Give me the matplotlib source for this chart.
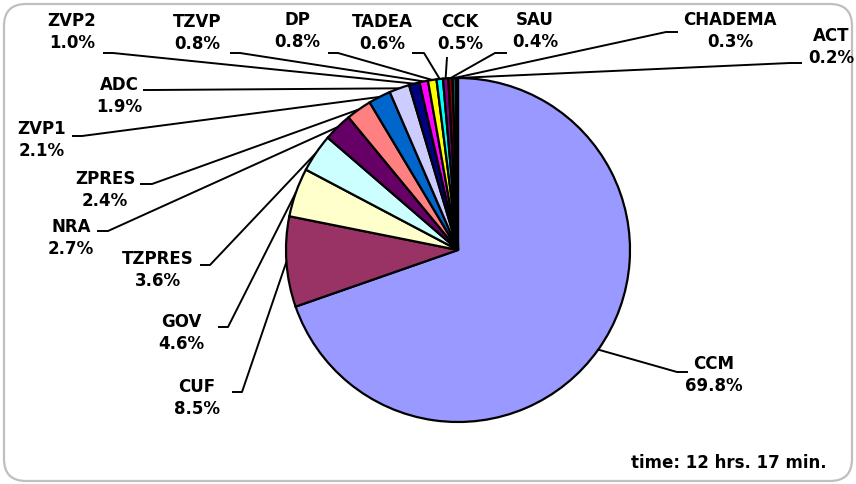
import matplotlib
matplotlib.use("Agg")
import matplotlib.pyplot as plt
from matplotlib.patches import FancyBboxPatch
import numpy as np

# ---- data ----
parties = ["CCM", "CUF", "GOV", "TZPRES", "NRA", "ZPRES", "ZVP1", "ADC",
           "ZVP2", "TZVP", "DP", "TADEA", "CCK", "SAU", "CHADEMA", "ACT"]
shares = [69.8, 8.5, 4.6, 3.6, 2.7, 2.4, 2.1, 1.9,
          1.0, 0.8, 0.8, 0.6, 0.5, 0.4, 0.3, 0.2]
colors = ["#9999FF", "#993366", "#FFFFCC", "#CCFFFF", "#660066", "#FF8080",
          "#0066CC", "#CCCCFF", "#000080", "#FF00FF", "#FFFF00", "#00FFFF",
          "#800080", "#800000", "#008080", "#0000FF"]
footnote = "time: 12 hrs. 17 min."

# ---- layout (image pixel coords, y downward) ----
W, H = 856, 484
label_pos = {  # text centre
    "CCM": (714, 375), "CUF": (197, 398), "GOV": (181, 333), "TZPRES": (158, 270),
    "NRA": (71, 238), "ZPRES": (105, 190), "ZVP1": (42, 140), "ADC": (119, 96),
    "ZVP2": (72, 32), "TZVP": (197, 33), "DP": (297, 31), "TADEA": (382, 33),
    "CCK": (460, 33), "SAU": (535, 31), "CHADEMA": (730, 31), "ACT": (831, 47),
}
leader_anchor = {  # (anchor, elbow)
    "CCM": ((688, 372), (677, 372)), "CUF": ((232, 392), (242, 392)),
    "GOV": ((218, 327), (228, 327)), "TZPRES": ((200, 265), (210, 265)),
    "NRA": ((97, 231), (108, 231)), "ZPRES": ((140, 184), (152, 184)),
    "ZVP1": ((72, 136), (82, 136)), "ADC": ((143, 90), (153, 90)),
    "ZVP2": ((103, 53), (113, 53)), "TZVP": ((230, 53), (240, 53)),
    "DP": ((328, 53), (338, 53)), "TADEA": ((412, 53), (424, 53)),
    "CCK": ((447, 57), (447, 57)), "SAU": ((507, 53), (495, 53)),
    "CHADEMA": ((678, 32), (666, 32)), "ACT": ((802, 63), (790, 63)),
}

def fy(y):
    return H - y

fig = plt.figure(figsize=(W / 100, H / 100), dpi=100)
ax = fig.add_axes([0, 0, 1, 1])

frame = FancyBboxPatch((4, fy(481)), 848, 477,
                       boxstyle="round,pad=0,rounding_size=22",
                       ec="#BFBFBF", fc="white", lw=1.6, zorder=0)
ax.add_patch(frame)

cx, cy, r = 458, fy(250), 172
wedges, _ = ax.pie(shares, colors=colors, startangle=90, counterclock=False,
                   center=(cx, cy), radius=r,
                   wedgeprops=dict(edgecolor="black", linewidth=1.6))
for w in wedges:
    w.set_zorder(2)

ax.set_xlim(0, W)
ax.set_ylim(0, H)
ax.set_aspect("auto")
ax.axis("off")

for name, share, w in zip(parties, shares, wedges):
    mid = np.deg2rad((w.theta1 + w.theta2) / 2)
    ex, ey = cx + r * np.cos(mid), cy + r * np.sin(mid)
    (ax0, ay0), (bx0, by0) = leader_anchor[name]
    ax.plot([ax0, bx0, ex], [fy(ay0), fy(by0), ey], color="black", lw=1.4,
            zorder=1, solid_capstyle="butt")
    tx, ty = label_pos[name]
    ax.text(tx, fy(ty), f"{name}\n{share:.1f}%", ha="center", va="center",
            fontsize=12, fontweight="bold", linespacing=1.3, zorder=3,
            family="DejaVu Sans")

ax.text(827, fy(463), footnote, ha="right", va="center", fontsize=12,
        fontweight="bold", family="DejaVu Sans")

fig.savefig("out.png", dpi=100)
